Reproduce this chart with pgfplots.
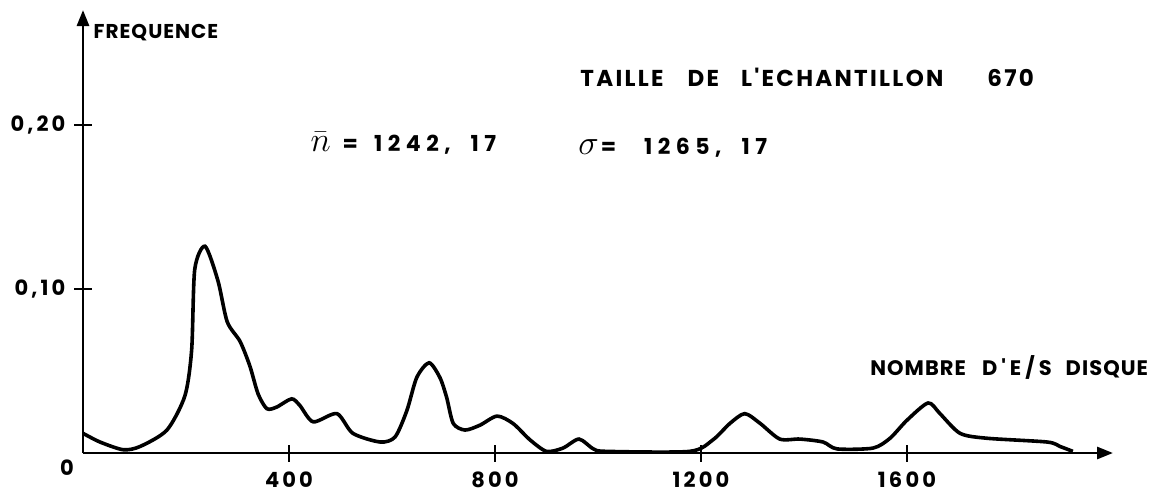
\documentclass[border=0pt]{standalone}
\usepackage{pgfplots}
\pgfplotsset{compat=1.18}
\usepackage{fontspec}
\setmainfont{Poppins}
\newfontfamily\hand[LetterSpace=5]{Poppins}
\newfontfamily\handt[LetterSpace=15]{Poppins}
\newfontfamily\handw[LetterSpace=25]{Poppins}
\newfontfamily\handm[LetterSpace=10]{Poppins}
\usetikzlibrary{arrows.meta}
\begin{document}
\begin{tikzpicture}
\useasboundingbox (-41.5pt,-20.5pt) rectangle (538.5pt,226.5pt);
\begin{axis}[
  scale only axis, width=515pt, height=221.5pt,
  xmin=0, xmax=2000, ymin=0, ymax=0.27,
  axis lines=left,
  axis line style={line width=1.4pt,-{Triangle[length=8pt,width=6pt]}},
  xtick={400,800,1200,1600}, xticklabels={400,800,1200,1600},
  ytick={0.1,0.2}, yticklabels={{0,10},{0,20}},
  tick style={black,line width=1.2pt},
  major tick length=8.5pt, tick align=center,
  ticklabel style={font=\handt\bfseries\fontsize{10.5}{12}\selectfont},
  xticklabel style={yshift=-1.5pt},
  yticklabel style={xshift=-1pt},
  clip=false,
]
\addplot[black, line width=1.8pt, smooth, tension=0.45] coordinates {
(0,0.012) (33,0.0067) (78,0.002) (111,0.004) (163,0.014) (198,0.035)
(211,0.063) (217,0.112) (237,0.126) (262,0.105) (280,0.080) (305,0.068)
(324,0.053) (340,0.036) (357,0.027) (376,0.028) (405,0.033) (421,0.029)
(447,0.019) (493,0.024) (524,0.012) (577,0.0067) (606,0.0098) (629,0.026)
(648,0.046) (672,0.055) (693,0.046) (706,0.034) (719,0.018) (742,0.014)
(771,0.017) (804,0.0225) (835,0.018) (868,0.008) (900,0.001) (932,0.003)
(963,0.0085) (991,0.0025) (1017,0.001) (1178,0.001) (1223,0.008) (1256,0.018)
(1285,0.024) (1315,0.018) (1353,0.0085) (1392,0.0085) (1437,0.0067) (1464,0.0025)
(1534,0.003) (1567,0.009) (1600,0.020) (1641,0.0305) (1664,0.024) (1703,0.012)
(1755,0.009) (1872,0.0067) (1897,0.004) (1922,0.001)
};
\coordinate (pF) at (axis cs:20,0.256);
\coordinate (pT) at (axis cs:965,0.229);
\coordinate (pN) at (axis cs:441,0.189);
\coordinate (pS) at (axis cs:961,0.186);
\coordinate (pX) at (axis cs:1528,0.052);
\coordinate (pO) at (axis cs:-31,-0.009);
\end{axis}
\node[anchor=west, inner sep=0pt, font=\hand\bfseries\fontsize{10}{12}\selectfont] at (pF) {FREQUENCE};
\node[anchor=west, inner sep=0pt, font=\handm\bfseries\fontsize{11.5}{13}\selectfont] at (pT) {TAILLE\hspace{12pt}DE\hspace{11pt}L'ECHANTILLON\hspace{22pt}670};
\node[anchor=west, inner sep=0pt, font=\handw\bfseries\fontsize{11}{13}\selectfont] at (pN) {{\fontsize{16}{16}\selectfont$\bar{n}$}\hspace{6pt}=\hspace{8pt}1242,\hspace{10pt}17};
\node[anchor=west, inner sep=0pt, font=\handw\bfseries\fontsize{11}{13}\selectfont] at (pS) {{\fontsize{16}{16}\selectfont$\sigma$}\hspace{1pt}=\hspace{14pt}1265,\hspace{10pt}17};
\node[anchor=west, inner sep=0pt, font=\hand\bfseries\fontsize{10.5}{12}\selectfont] at (pX) {NOMBRE\hspace{8pt}D\hspace{2pt}'\hspace{2pt}E\hspace{2pt}/\hspace{2pt}S\hspace{7pt}DISQUE};
\node[font=\handt\bfseries\fontsize{10.5}{12}\selectfont] at (pO) {0};
\end{tikzpicture}
\end{document}
